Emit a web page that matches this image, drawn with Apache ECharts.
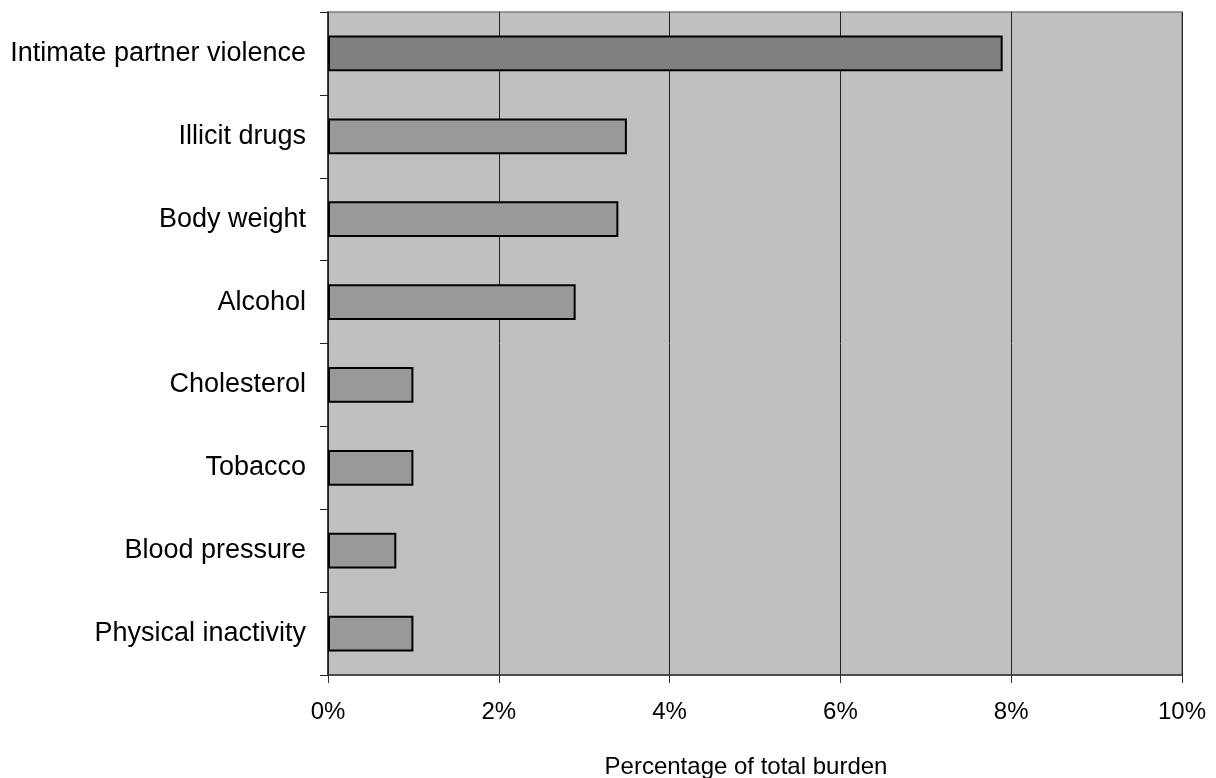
<!DOCTYPE html>
<html>
<head>
<meta charset="utf-8">
<script src="https://cdn.jsdelivr.net/npm/echarts@6/dist/echarts.min.js"></script>
<style>
  html, body { margin: 0; padding: 0; background: #ffffff; }
  #chart { width: 1216px; height: 778px; }
</style>
</head>
<body>
<div id="chart"></div>
<script>
// Risk factors, top to bottom
const categories = [
  'Intimate partner violence',
  'Illicit drugs',
  'Body weight',
  'Alcohol',
  'Cholesterol',
  'Tobacco',
  'Blood pressure',
  'Physical inactivity'
];
// Share of total burden, in percent
const burden = [7.9, 3.5, 3.4, 2.9, 1.0, 1.0, 0.8, 1.0];
const xTicks = [0, 2, 4, 6, 8, 10];
const axisTitle = 'Percentage of total burden';

const font = 'Arial, "Liberation Sans", Helvetica, sans-serif';
const chart = echarts.init(document.getElementById('chart'), null, { renderer: 'canvas' });

chart.setOption({
  animation: false,
  grid: {
    left: 328, right: 34, top: 12, bottom: 103,
    outerBoundsMode: 'none',
    containLabel: false,
    show: true,
    backgroundColor: '#c0c0c0',
    borderColor: '#808080',
    borderWidth: 1.5
  },
  xAxis: {
    type: 'value',
    min: xTicks[0],
    max: xTicks[xTicks.length - 1],
    interval: 2,
    name: axisTitle,
    nameLocation: 'middle',
    nameGap: 80,
    nameTextStyle: { fontFamily: font, fontSize: 24, color: '#000', padding: [0, 18, 0, 0] },
    axisLine: { show: true, lineStyle: { color: '#333', width: 1.5 } },
    axisTick: { show: true, length: 8, lineStyle: { color: '#333' } },
    axisLabel: {
      formatter: '{value}%',
      margin: 25,
      fontFamily: font, fontSize: 24, color: '#000'
    },
    splitLine: { show: true, lineStyle: { color: '#222', width: 1 } }
  },
  yAxis: {
    type: 'category',
    inverse: true,
    data: categories,
    axisLine: { show: true, onZero: false, lineStyle: { color: '#222', width: 1.5 } },
    axisTick: { show: true, length: 8, lineStyle: { color: '#222' } },
    axisLabel: { margin: 22, fontFamily: font, fontSize: 27, color: '#000' },
    splitLine: { show: false }
  },
  series: [{
    type: 'bar',
    data: burden.map((v, i) => ({
      value: v,
      itemStyle: { color: i === 0 ? '#808080' : '#999999' }
    })),
    barWidth: '43%',
    itemStyle: { borderColor: '#000', borderWidth: 2 }
  }]
});
</script>
</body>
</html>
